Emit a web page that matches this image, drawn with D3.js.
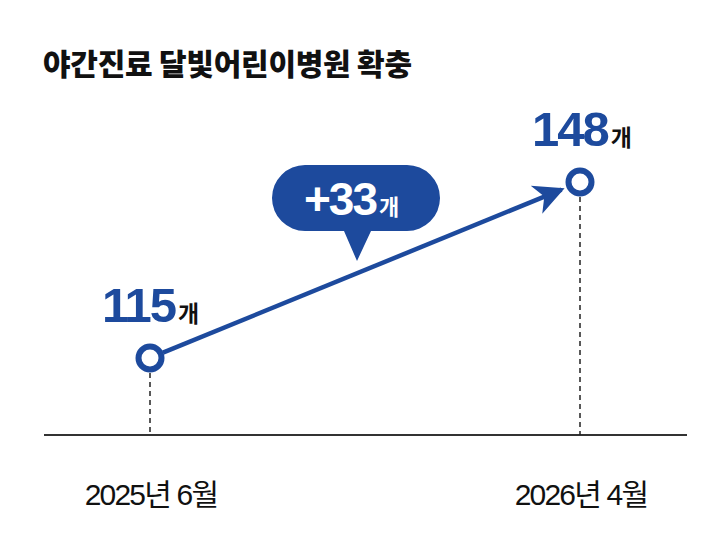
<!DOCTYPE html>
<html>
<head>
<meta charset="utf-8">
<script src="https://cdn.jsdelivr.net/npm/d3@7"></script>
<style>
  body { margin: 0; background: #fff; }
  svg { display: block; }
</style>
</head>
<body>
<div id="chart"></div>
<script>
// data
var periods = ["2025년 6월", "2026년 4월"];
var counts = [115, 148];
var unit = "개";
var title = "야간진료 달빛어린이병원 확충";

var W = 720, H = 548;
var blue = "#1d4a9d";
var baseY = 435;

var svg = d3.select("#chart").append("svg")
    .attr("width", W)
    .attr("height", H);

// scales
var x = d3.scalePoint().domain(periods).range([150, 580]);
var y = d3.scaleLinear().domain([100, 160]).range([438, 118]);

// title
svg.append("text")
    .attr("x", 43)
    .attr("y", 75)
    .style("font-family", "'Noto Sans CJK KR', sans-serif")
    .style("font-weight", 800)
    .style("font-size", "30px")
    .style("letter-spacing", "-0.25px")
    .attr("fill", "#111")
    .text(title);

// baseline
svg.append("line")
    .attr("x1", 44).attr("x2", 687)
    .attr("y1", baseY).attr("y2", baseY)
    .attr("stroke", "#333").attr("stroke-width", 2);

// dashed drop lines
svg.selectAll(".drop")
    .data(periods)
    .enter().append("line")
    .attr("class", "drop")
    .attr("x1", function (d) { return x(d); })
    .attr("x2", function (d) { return x(d); })
    .attr("y1", function (d, i) { return y(counts[i]) + 15; })
    .attr("y2", baseY)
    .attr("stroke", "#222")
    .attr("stroke-width", 1.5)
    .attr("stroke-dasharray", "5,4");

// arrow head
svg.append("defs").append("marker")
    .attr("id", "arrow")
    .attr("viewBox", "0 0 20 20")
    .attr("refX", 16).attr("refY", 10)
    .attr("markerWidth", 7.5).attr("markerHeight", 7.5)
    .attr("markerUnits", "strokeWidth")
    .attr("orient", "auto")
    .append("path")
    .attr("d", "M0,1 L18,10 L0,19 L5,10 Z")
    .attr("fill", blue);

// trend arrow
var x0 = x(periods[0]), y0 = y(counts[0]);
var x1 = x(periods[1]), y1 = y(counts[1]);
var len = Math.hypot(x1 - x0, y1 - y0);
var ux = (x1 - x0) / len, uy = (y1 - y0) / len;
svg.append("line")
    .attr("x1", x0 + ux * 14).attr("y1", y0 + uy * 14)
    .attr("x2", x1 - ux * 20).attr("y2", y1 - uy * 20)
    .attr("stroke", blue)
    .attr("stroke-width", 4.5)
    .attr("marker-end", "url(#arrow)");

// points
svg.selectAll(".pt")
    .data(periods)
    .enter().append("circle")
    .attr("class", "pt")
    .attr("cx", function (d) { return x(d); })
    .attr("cy", function (d, i) { return y(counts[i]); })
    .attr("r", 11.5)
    .attr("fill", "#fff")
    .attr("stroke", blue)
    .attr("stroke-width", 6);

// value labels
var val = svg.selectAll(".val")
    .data(periods)
    .enter().append("text")
    .attr("class", "val")
    .attr("x", function (d) { return x(d) - 48; })
    .attr("y", function (d, i) { return y(counts[i]) - 36; })
    .attr("fill", blue);
val.append("tspan")
    .style("font-family", "'Liberation Sans', Arial, sans-serif")
    .style("font-weight", 700)
    .style("font-size", "49px")
    .style("letter-spacing", "-2px")
    .text(function (d, i) { return counts[i]; });
val.append("tspan")
    .attr("dx", 3)
    .style("font-family", "'Noto Sans CJK KR', sans-serif")
    .style("font-weight", 700)
    .style("font-size", "23px")
    .attr("fill", "#111")
    .text(unit);

// speech bubble with the difference
var bx = 272, by = 165, bw = 168, bh = 66, tipX = 357;
var bubble = d3.path();
bubble.moveTo(bx + bh / 2, by);
bubble.lineTo(bx + bw - bh / 2, by);
bubble.arc(bx + bw - bh / 2, by + bh / 2, bh / 2, -Math.PI / 2, Math.PI / 2);
bubble.lineTo(tipX + 14, by + bh);
bubble.lineTo(tipX, by + bh + 30);
bubble.lineTo(tipX - 13, by + bh);
bubble.lineTo(bx + bh / 2, by + bh);
bubble.arc(bx + bh / 2, by + bh / 2, bh / 2, Math.PI / 2, Math.PI * 3 / 2);
bubble.closePath();
svg.append("path")
    .attr("d", bubble.toString())
    .attr("fill", blue);

var diff = svg.append("text")
    .attr("x", 304)
    .attr("y", 215)
    .attr("fill", "#fff");
diff.append("tspan")
    .style("font-family", "'Liberation Sans', Arial, sans-serif")
    .style("font-weight", 700)
    .style("font-size", "46px")
    .style("letter-spacing", "-2px")
    .text("+" + (counts[1] - counts[0]));
diff.append("tspan")
    .attr("dx", 3)
    .style("font-family", "'Noto Sans CJK KR', sans-serif")
    .style("font-weight", 700)
    .style("font-size", "22px")
    .text(unit);

// x labels
svg.selectAll(".xl")
    .data(periods)
    .enter().append("text")
    .attr("class", "xl")
    .attr("x", function (d) { return x(d) + 1; })
    .attr("y", 505)
    .attr("text-anchor", "middle")
    .style("font-family", "'Liberation Sans', 'Noto Sans CJK KR', sans-serif")
    .style("font-size", "30px")
    .style("letter-spacing", "-1.8px")
    .attr("fill", "#111")
    .text(function (d) { return d; });
</script>
</body>
</html>
